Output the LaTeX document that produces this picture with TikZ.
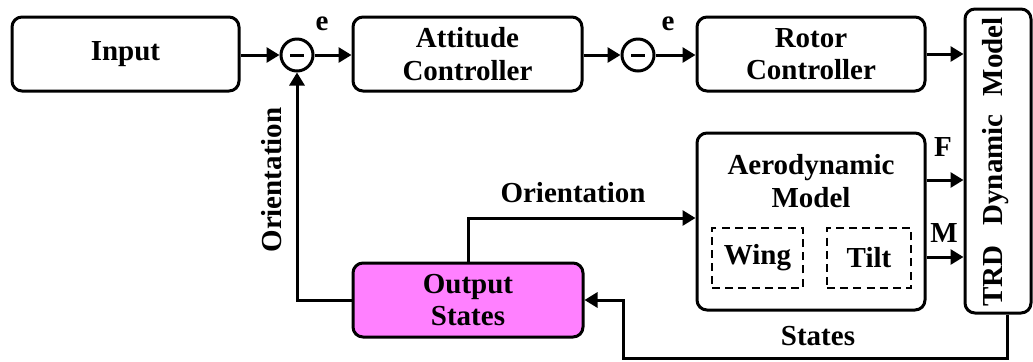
\documentclass[tikz,border=0pt]{standalone}
\usepackage{fontspec}
\setmainfont{Liberation Serif}
\usetikzlibrary{arrows.meta,calc}
\definecolor{outfill}{HTML}{FF80FF}
\tikzset{
  blk/.style={draw, line width=1.5pt, rounded corners=5pt, align=center, font=\bfseries\fontsize{14.5}{16.3}\selectfont, inner sep=0pt},
  sumc/.style={draw, circle, line width=1.5pt, minimum size=16pt, inner sep=0pt},
  dbox/.style={draw, dash pattern=on 4pt off 2.6pt, line width=1pt, align=center, font=\bfseries\fontsize{14.5}{16.3}\selectfont, inner sep=0pt},
  lbl/.style={font=\bfseries\fontsize{14.5}{16.3}\selectfont, inner sep=0pt},
  conn/.style={line width=1.5pt, -{Triangle[length=6.5pt,width=7.5pt]}},
  wire/.style={line width=1.5pt}
}
\begin{document}
\begin{tikzpicture}[x=0.5pt,y=-0.5pt]
\useasboundingbox (0,0) rectangle (1033,361);
% blocks
\node[blk, minimum width=113.5pt, minimum height=37pt] (in) at (125.5,54) {Input};
\node[sumc] (s1) at (297,55) {};
\node[blk, minimum width=114.5pt, minimum height=37pt] (att) at (467.5,54) {Attitude\\Controller};
\node[sumc] (s2) at (638,55) {};
\node[blk, minimum width=114pt, minimum height=37pt] (rot) at (811,54) {Rotor\\Controller};
\node[blk, minimum width=33pt, minimum height=152pt] (trd) at (998,161) {};
\node[lbl, rotate=90] (trdt) at (996,162) {TRD\hspace{10pt}Dynamic\hspace{9pt}Model};
\node[blk, minimum width=114pt, minimum height=88.5pt] (aero) at (811,221.5) {};
\node[lbl, align=center] (aerot) at (811,181) {Aerodynamic\\Model};
\node[dbox, minimum width=45.5pt, minimum height=30pt] (wing) at (757.5,258) {Wing};
\node[dbox, minimum width=42pt, minimum height=30pt] (tilt) at (869,258) {Tilt};
\node[blk, fill=outfill, minimum width=115pt, minimum height=37pt] (out) at (468,300) {Output\\States};
% minus signs
\draw[line width=1.5pt] ($(s1.center)+(-7,0)$) -- ($(s1.center)+(7,0)$);
\draw[line width=1.5pt] ($(s2.center)+(-7,0)$) -- ($(s2.center)+(7,0)$);
% connectors
\draw[conn] (in.east |- s1.west) -- (s1.west);
\draw[conn] (s1.east) -- (s1.east -| att.west);
\draw[conn] (att.east |- s2.west) -- (s2.west);
\draw[conn] (s2.east) -- (s2.east -| rot.west);
\draw[conn] (rot.east) -- (rot.east -| trd.west);
\coordinate (fy) at (0,180);
\coordinate (my) at (0,257);
\draw[conn] (aero.east |- fy) -- (trd.west |- fy);
\draw[conn] (aero.east |- my) -- (trd.west |- my);
\coordinate (oy) at (0,218);
\draw[conn] (out.north) -- (out.north |- oy) -- (aero.west |- oy);
\draw[conn] (out.west) -- (s1.south |- out.west) -- (s1.south);
\coordinate (fbx) at (1007,0);
\coordinate (fby) at (0,358);
\coordinate (fbl) at (623,0);
\draw[conn] (fbx |- trd.south) -- (fbx |- fby) -- (fbl |- fby) -- (fbl |- out.east) -- (out.east);
% labels
\node[lbl] (e1) at (322,24) {e};
\node[lbl] (e2) at (668,24) {e};
\node[lbl] (fl) at (943,147) {F};
\node[lbl] (ml) at (944,233) {M};
\node[lbl] (ol) at (573,193) {Orientation};
\node[lbl, rotate=90] (ol2) at (272,180) {Orientation};
\node[lbl] (sl) at (818,336) {States};
\end{tikzpicture}
\end{document}
